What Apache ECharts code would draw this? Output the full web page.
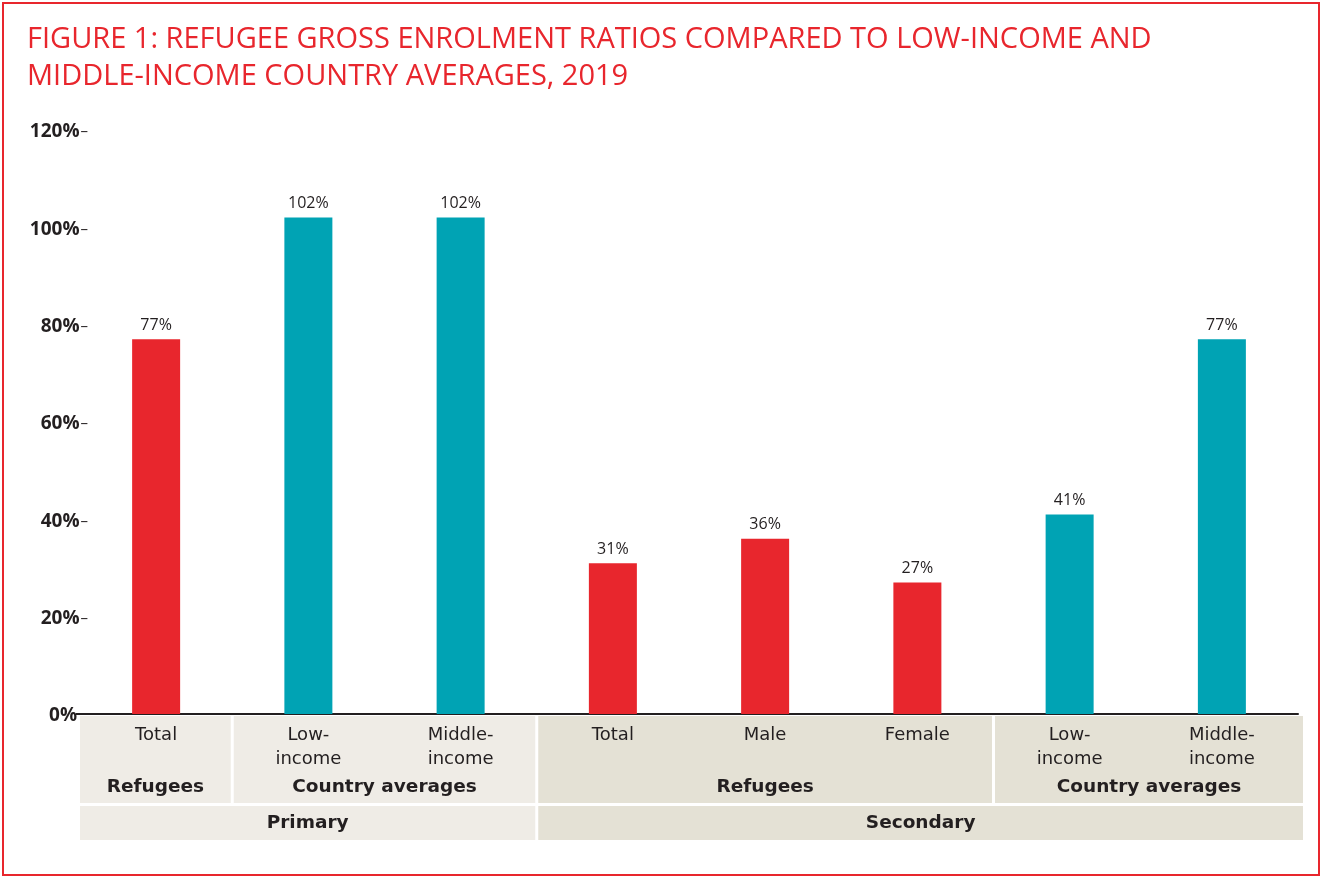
<!DOCTYPE html>
<html>
<head>
<meta charset="utf-8">
<script src="https://cdn.jsdelivr.net/npm/echarts@6/dist/echarts.min.js"></script>
<style>
  html, body { margin: 0; padding: 0; background: #ffffff; }
  #chart { width: 1322px; height: 877px; }
</style>
</head>
<body>
<div id="chart"></div>
<script>
// Gross enrolment ratios, 2019 (%)
const categories = ['Total', 'Low-\nincome', 'Middle-\nincome', 'Total', 'Male', 'Female', 'Low-\nincome', 'Middle-\nincome'];
const values = [77, 102, 102, 31, 36, 27, 41, 77];
const barGroup = ['refugee', 'country', 'country', 'refugee', 'refugee', 'refugee', 'country', 'country'];

// Header rows under the axis
const groupLabels = ['Refugees', 'Country averages', 'Refugees', 'Country averages'];
const groupSpans = [1, 2, 3, 2];
const levelLabels = ['Primary', 'Secondary'];
const levelSpans = [3, 5];
const levelShades = ['#EFECE6', '#E4E1D5'];

const yTicks = [0, 20, 40, 60, 80, 100, 120];

const titleLines = [
  'FIGURE 1: REFUGEE GROSS ENROLMENT RATIOS COMPARED TO LOW-INCOME AND',
  'MIDDLE-INCOME COUNTRY AVERAGES, 2019'
];

const RED = '#E8262D';
const TEAL = '#00A3B4';
const INK = '#231F20';
const TABLE_FONT = '"DejaVu Sans", sans-serif';
const NUM_FONT = '"Open Sans", sans-serif';

const chart = echarts.init(document.getElementById('chart'), null, { renderer: 'canvas' });

const option = {
  animation: false,
  backgroundColor: '#ffffff',
  title: {
    text: titleLines.join('\n'),
    left: 27,
    top: 21,
    padding: 0,
    textStyle: {
      color: RED,
      fontFamily: '"Open Sans", sans-serif',
      fontWeight: 'normal',
      fontSize: 29,
      lineHeight: 37
    }
  },
  grid: { left: 80, right: 24, top: 130, bottom: 163, containLabel: false },
  xAxis: {
    type: 'category',
    data: categories,
    axisLine: { show: true, lineStyle: { color: INK, width: 2 } },
    axisTick: { show: false },
    axisLabel: {
      interval: 0,
      margin: 9,
      color: INK,
      fontFamily: TABLE_FONT,
      fontSize: 18,
      lineHeight: 24
    }
  },
  yAxis: {
    type: 'value',
    min: yTicks[0],
    max: yTicks[yTicks.length - 1],
    interval: 20,
    axisLine: { show: false },
    axisTick: { show: false },
    splitLine: { show: false },
    axisLabel: {
      margin: -8,
      padding: [4, 0, 0, 0],
      formatter: function (v) {
        return v === 0 ? '{z|' + v + '%}' : '{n|' + v + '%}{d|–}';
      },
      rich: {
        n: { fontFamily: NUM_FONT, fontWeight: 'bold', fontSize: 19, color: INK },
        z: { fontFamily: NUM_FONT, fontWeight: 'bold', fontSize: 19, color: INK, padding: [0, 11, 0, 0] },
        d: { fontFamily: NUM_FONT, fontWeight: 'normal', fontSize: 15, color: INK, padding: [0, 0, 0, 1] }
      }
    }
  },
  series: [{
    type: 'bar',
    barWidth: 48,
    data: values.map(function (v, i) {
      return { value: v, itemStyle: { color: barGroup[i] === 'refugee' ? RED : TEAL } };
    }),
    label: {
      show: true,
      position: 'top',
      distance: 6,
      formatter: '{c}%',
      color: INK,
      fontFamily: NUM_FONT,
      fontSize: 16
    }
  }]
};

chart.setOption(option);

// Header table: shaded cells aligned to the category slots
function buildTable() {
  const n = categories.length;
  const c0 = chart.convertToPixel({ xAxisIndex: 0 }, 0);
  const c1 = chart.convertToPixel({ xAxisIndex: 0 }, 1);
  const slot = c1 - c0;
  const edge = function (k) { return c0 - slot / 2 + k * slot; };
  const axisY = chart.convertToPixel({ yAxisIndex: 0 }, 0);
  const extraRight = 5;
  const gap = 3;
  const row1Top = axisY + 2;
  const row1Bottom = axisY + 89;
  const row2Top = row1Bottom + gap;
  const row2Bottom = axisY + 126;

  const elements = [];

  // level index of each category
  const levelOf = [];
  levelSpans.forEach(function (s, li) { for (let k = 0; k < s; k++) levelOf.push(li); });

  // group cells (row 1)
  let start = 0;
  groupSpans.forEach(function (s, gi) {
    const lvl = levelOf[start];
    const x0 = edge(start) + (start === 0 ? 0 : gap / 2);
    const endIdx = start + s;
    const x1 = edge(endIdx) + (endIdx === n ? extraRight : -gap / 2);
    elements.push({
      type: 'rect', z: -10, silent: true,
      shape: { x: x0, y: row1Top, width: x1 - x0, height: row1Bottom - row1Top },
      style: { fill: levelShades[lvl] }
    });
    elements.push({
      type: 'text', z: 5, silent: true,
      x: (x0 + x1) / 2, y: axisY + 73,
      style: {
        text: groupLabels[gi], fill: INK, fontFamily: TABLE_FONT, fontWeight: 'bold',
        fontSize: 18.5, align: 'center', verticalAlign: 'middle'
      }
    });
    start = endIdx;
  });

  // level cells (row 2)
  start = 0;
  levelSpans.forEach(function (s, li) {
    const x0 = edge(start) + (start === 0 ? 0 : gap / 2);
    const endIdx = start + s;
    const x1 = edge(endIdx) + (endIdx === n ? extraRight : -gap / 2);
    elements.push({
      type: 'rect', z: -10, silent: true,
      shape: { x: x0, y: row2Top, width: x1 - x0, height: row2Bottom - row2Top },
      style: { fill: levelShades[li] }
    });
    elements.push({
      type: 'text', z: 5, silent: true,
      x: (x0 + x1) / 2, y: (row2Top + row2Bottom) / 2,
      style: {
        text: levelLabels[li], fill: INK, fontFamily: TABLE_FONT, fontWeight: 'bold',
        fontSize: 18.5, align: 'center', verticalAlign: 'middle'
      }
    });
    start = endIdx;
  });

  // short stub joining the 0% label to the axis line
  elements.push({
    type: 'line', z: 5, silent: true,
    shape: { x1: 76, y1: axisY, x2: edge(0) + 1, y2: axisY },
    style: { stroke: INK, lineWidth: 2 }
  });

  // frame around the figure
  elements.push({
    type: 'rect', z: 10, silent: true,
    shape: { x: 3, y: 3, width: 1316, height: 872 },
    style: { fill: 'none', stroke: RED, lineWidth: 2 }
  });

  chart.setOption({ graphic: { elements: elements } });
}

buildTable();
</script>
</body>
</html>
